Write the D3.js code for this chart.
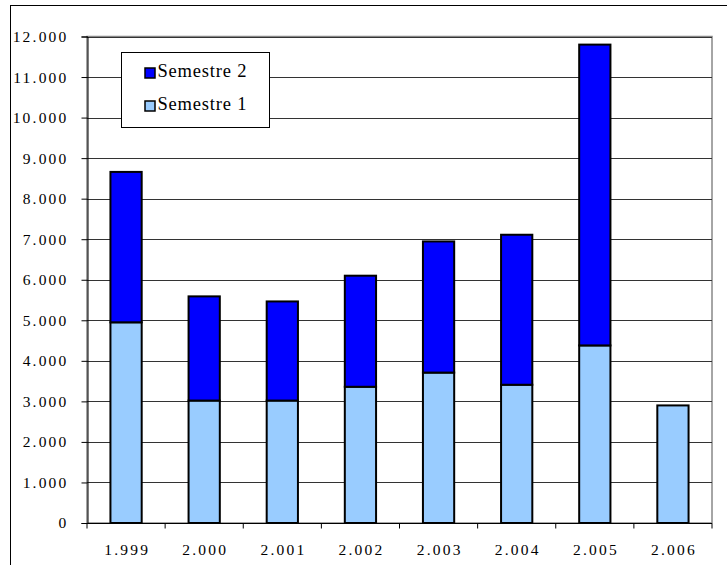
<!DOCTYPE html>
<html><head><meta charset="utf-8">
<script src="https://cdn.jsdelivr.net/npm/d3@7"></script>
<style>body{margin:0;background:#fff}svg{display:block}svg text{font-family:"Liberation Serif","Tinos","Times New Roman","DejaVu Serif",serif !important}</style>
</head><body>
<svg id="c" width="727" height="565"></svg>
<script>
const categories = ["1.999","2.000","2.001","2.002","2.003","2.004","2.005","2.006"];
const semestre1 = [4950, 3020, 3020, 3360, 3710, 3410, 4380, 2900];
const semestre2 = [3710, 2570, 2445, 2740, 3235, 3700, 7420, 0];
const yTicks = [0,1000,2000,3000,4000,5000,6000,7000,8000,9000,10000,11000,12000];
const seriesNames = ["Semestre 1","Semestre 2"];
const seriesColors = ["#99ccff","#0000ff"];

const FONT = "Liberation Serif, Tinos, Times New Roman, DejaVu Serif, serif";
const svg = d3.select("#c");
const L = 87, R = 712, T = 36.5, B = 523;
// outer border
svg.append("rect").attr("x",10.5).attr("y",5.5).attr("width",740).attr("height",600)
  .attr("fill","none").attr("stroke","#000").attr("stroke-width",1);

const x = d3.scaleBand().domain(categories).range([L,R]).paddingInner(0.6).paddingOuter(0.3);
const xc = d3.scaleBand().domain(categories).range([L,R]);
const y = d3.scaleLinear().domain([0,12000]).range([B,T]);

// plot area border
svg.append("rect").attr("x",L).attr("y",T).attr("width",R-L).attr("height",B-T)
  .attr("fill","none").attr("stroke","#888").attr("stroke-width",1.5);
// gridlines
svg.append("g").selectAll("line").data(yTicks.filter(d=>d>0)).join("line")
  .attr("x1",L).attr("x2",R).attr("y1",d=>Math.round(y(d))+0.5).attr("y2",d=>Math.round(y(d))+0.5)
  .attr("stroke","#333").attr("stroke-width",1);

// y axis
const fmt = d => d===0 ? "0" : d3.format(",")(d).replace(/,/g,".");
const ya = svg.append("g").attr("transform",`translate(${L+0.5},0)`)
  .call(d3.axisLeft(y).tickValues(yTicks).tickFormat(fmt).tickSize(6).tickPadding(13));
ya.attr("font-family",FONT);
ya.select(".domain").attr("stroke","#000");
ya.selectAll(".tick line").attr("stroke","#000");
ya.selectAll("text").attr("font-size",15.5).attr("fill","#000").attr("letter-spacing",2.2)
  .attr("font-family",FONT);

// stacked bars
const stackData = categories.map((c,i)=>({cat:c, s1:semestre1[i], s2:semestre2[i]}));
const stack = d3.stack().keys(["s1","s2"])(stackData);
svg.append("g").selectAll("g").data(stack).join("g")
  .attr("fill",(d,i)=>seriesColors[i])
  .selectAll("rect").data(d=>d).join("rect")
  .attr("x",d=>x(d.data.cat)).attr("width",x.bandwidth())
  .attr("y",d=>y(d[1])).attr("height",d=>y(d[0])-y(d[1]))
  .attr("stroke","#000").attr("stroke-width",2);

// x axis
const xa = svg.append("g").attr("transform",`translate(0,${B+0.5})`);
xa.append("line").attr("x1",L).attr("x2",R).attr("stroke","#000");
xa.selectAll("line.t").data(categories.concat(["end"])).join("line").attr("class","t")
  .attr("x1",(d,i)=>L+i*xc.step()).attr("x2",(d,i)=>L+i*xc.step()).attr("y1",0).attr("y2",5).attr("stroke","#000");
xa.selectAll("text").data(categories).join("text")
  .attr("x",d=>xc(d)+xc.bandwidth()/2+1.1).attr("y",31).attr("text-anchor","middle")
  .attr("font-family",FONT).attr("font-size",15.5).attr("letter-spacing",2.2).text(d=>d);

// legend
const lg = svg.append("g");
lg.append("rect").attr("x",121.5).attr("y",52.5).attr("width",148).attr("height",75)
  .attr("fill","#fff").attr("stroke","#000");
const legendItems = [{n:seriesNames[1],c:seriesColors[1]},{n:seriesNames[0],c:seriesColors[0]}];
legendItems.forEach((it,i)=>{
  const yy = 67.5 + i*33;
  lg.append("rect").attr("x",145).attr("y",yy+0.5).attr("width",10).attr("height",10)
    .attr("fill",it.c).attr("stroke","#000").attr("stroke-width",1.5);
  lg.append("text").attr("x",157.5).attr("y",yy+9.5).attr("font-family",FONT)
    .attr("font-size",18.5).attr("letter-spacing",0.8).text(it.n);
});
</script>
</body></html>
